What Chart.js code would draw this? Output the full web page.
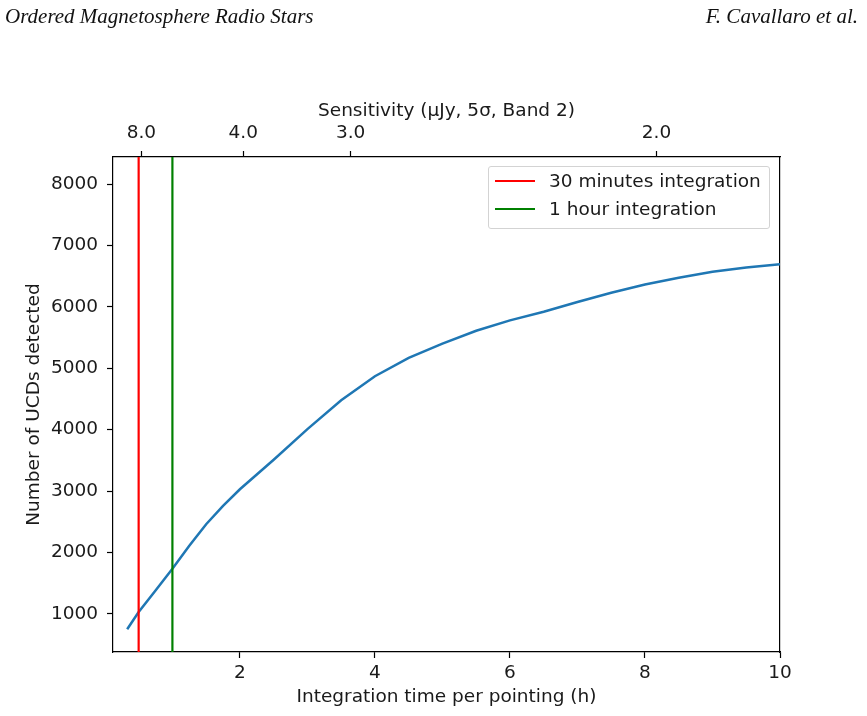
<!DOCTYPE html>
<html>
<head>
<meta charset="utf-8">
<script src="https://cdn.jsdelivr.net/npm/chart.js@4.4.1/dist/chart.umd.min.js"></script>
<style>
  html, body { margin: 0; padding: 0; background: #fff; }
  #wrap { position: relative; width: 867px; height: 716px; overflow: hidden; }
  #c { position: absolute; left: 0; top: 0; }
  .hdr { position: absolute; top: 4px; font-family: 'Liberation Serif', serif; font-style: italic; font-size: 21px; color: #111; white-space: nowrap; }
  #legend { position: absolute; left: 488px; top: 166px; width: 280px; height: 61px; border: 1px solid #d3d3d3; border-radius: 3px; background: rgba(255,255,255,0.85); font-family: 'DejaVu Sans', sans-serif; font-size: 18.5px; color: #1a1a1a; }
  .lrow { position: absolute; left: 0; height: 22px; line-height: 22px; white-space: nowrap; }
  .lline { position: absolute; left: 6px; top: 10px; width: 40px; height: 2px; }
  .ltext { position: absolute; left: 60px; top: 0; }
</style>
</head>
<body>
<div id="wrap">
  <canvas id="c" width="867" height="716"></canvas>
  <div class="hdr" style="left:5px;">Ordered Magnetosphere Radio Stars</div>
  <div class="hdr" style="right:9px;">F. Cavallaro et al.</div>
  <div id="legend">
    <div class="lrow" style="top:3px;"><div class="lline" style="background:#ff0000;"></div><div class="ltext">30 minutes integration</div></div>
    <div class="lrow" style="top:31px;"><div class="lline" style="background:#008000;"></div><div class="ltext">1 hour integration</div></div>
  </div>
</div>
<script>
// ---- Data ----
const hours = [0.33, 0.5, 0.75, 1, 1.25, 1.5, 1.75, 2, 2.5, 3, 3.5, 4, 4.5, 5, 5.5, 6, 6.5, 7, 7.5, 8, 8.5, 9, 9.5, 10];
const ucdsDetected = [750, 1030, 1380, 1735, 2110, 2460, 2760, 3030, 3510, 4010, 4480, 4870, 5170, 5400, 5610, 5780, 5920, 6080, 6230, 6365, 6475, 6570, 6640, 6695];
const xTicks = [2, 4, 6, 8, 10];
const yTicks = [1000, 2000, 3000, 4000, 5000, 6000, 7000, 8000];
const sensTickHours = [0.54, 2.05, 3.64, 8.17];
const sensTickLabels = ['8.0', '4.0', '3.0', '2.0'];
const marker30min = 0.5;
const marker1h = 1;
const xMin = 0.12, xMax = 10;
const yMin = 380, yMax = 8440;

Chart.defaults.font.family = "'DejaVu Sans', sans-serif";
Chart.defaults.font.size = 18.5;
Chart.defaults.color = '#1a1a1a';

const curve = hours.map((h, i) => ({ x: h, y: ucdsDetected[i] }));
const vline = (x) => [{ x: x, y: yMin }, { x: x, y: yMax }];

const tickGrid = { display: true, drawOnChartArea: false, drawTicks: true, tickLength: 6, tickColor: '#000', tickWidth: 1.2 };
const border = { display: true, color: '#000', width: 1.2 };

new Chart(document.getElementById('c'), {
  type: 'scatter',
  data: {
    datasets: [
      { label: '30 minutes integration', data: vline(marker30min), showLine: true, borderColor: '#ff0000', borderWidth: 2.2, pointRadius: 0, order: 0 },
      { label: '1 hour integration', data: vline(marker1h), showLine: true, borderColor: '#008000', borderWidth: 2.2, pointRadius: 0, order: 1 },
      { label: 'UCDs', data: curve, showLine: true, borderColor: '#1f77b4', borderWidth: 2.5, pointRadius: 0, tension: 0, order: 2 }
    ]
  },
  options: {
    responsive: false,
    animation: false,
    layout: { padding: { left: 0, right: 87, top: 0, bottom: 0 } },
    plugins: { legend: { display: false }, tooltip: { enabled: false } },
    scales: {
      x: {
        type: 'linear', position: 'bottom', min: xMin, max: xMax,
        afterBuildTicks: (s) => { s.ticks = xTicks.map(v => ({ value: v })); },
        afterFit: (s) => { s.height = 64; },
        ticks: { padding: 4, maxRotation: 0, autoSkip: false, callback: (v) => String(v) },
        grid: tickGrid, border: border,
        title: { display: true, text: 'Integration time per pointing (h)', padding: { top: 0, bottom: 8 } }
      },
      x2: {
        type: 'linear', position: 'top', axis: 'x', min: xMin, max: xMax,
        afterBuildTicks: (s) => { s.ticks = sensTickHours.map(v => ({ value: v })); },
        afterFit: (s) => { s.height = 157; },
        ticks: { padding: 7, maxRotation: 0, autoSkip: false, callback: (v, i) => sensTickLabels[i] },
        grid: tickGrid, border: border,
        title: { display: true, text: 'Sensitivity (μJy, 5σ, Band 2)', padding: { top: 100, bottom: 0 } }
      },
      y: {
        type: 'linear', position: 'left', min: yMin, max: yMax,
        afterBuildTicks: (s) => { s.ticks = yTicks.map(v => ({ value: v })); },
        afterFit: (s) => { s.width = 113; },
        ticks: { padding: 9, autoSkip: false, callback: (v) => String(v) },
        grid: tickGrid, border: border,
        title: { display: true, text: 'Number of UCDs detected', padding: { top: 23, bottom: 0 } }
      },
      y2: {
        type: 'linear', position: 'right', min: yMin, max: yMax,
        afterFit: (s) => { s.width = 0; },
        ticks: { display: false },
        grid: { display: false, drawTicks: false },
        border: border
      }
    }
  }
});
</script>
</body>
</html>
